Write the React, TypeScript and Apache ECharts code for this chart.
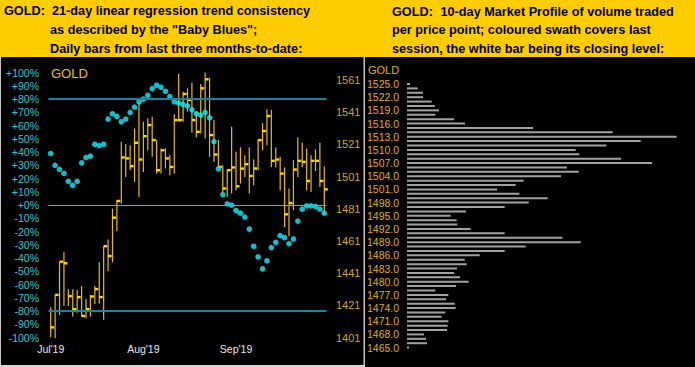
import React, { useEffect, useRef } from "react";
import * as echarts from "echarts";

// ---- Left chart: 63 daily sessions ----
const sessions = [
  "1","2","3","4","5","6","7","8","9","10","11","12","13","14","15","16","17","18","19","20","21",
  "22","23","24","25","26","27","28","29","30","31","32","33","34","35","36","37","38","39","40","41","42",
  "43","44","45","46","47","48","49","50","51","52","53","54","55","56","57","58","59","60","61","62","63",
];
const monthLabels = ["Jul'19", "Aug'19", "Sep'19"];
const monthStartIdx = [0, 21, 42];

// "Baby Blues" trend consistency (%)
const trendPct = [
  39, 30, 27, 24, 18, 15, 18, 32, 36, 37,
  46, 45, 46, 65, 69, 67, 63, 65, 70, 74,
  78, 80, 83, 88, 90.5, 89, 86, 82, 78, 77,
  76, 75, 72, 69, 68, 70, 66, 48, 27.5, 8,
  1, 0, -4, -6, -9, -18, -31, -39, -48, -42,
  -32, -28, -23, -24.5, -29, -25.5, -12, -3, -0.5, -0.5,
  -1, -3, -6,
];

const highs = [
  1419.9, 1427.6, 1448.2, 1454.1, 1431.1, 1431.1, 1430.6, 1433.1, 1425.0, 1427.6,
  1433.1, 1447.8, 1457.8, 1462.0, 1481.1, 1486.3, 1522.6, 1521.2, 1520.5, 1530.9,
  1546.5, 1535.0, 1537.2, 1538.2, 1523.7, 1518.5, 1518.5, 1514.3, 1539.8, 1564.7,
  1553.7, 1555.8, 1559.3, 1541.3, 1558.5, 1565.6, 1562.1, 1536.1, 1523.7, 1508.1,
  1505.4, 1531.9, 1516.4, 1519.1, 1514.3, 1519.1, 1511.6, 1524.1, 1534.1, 1542.8,
  1542.3, 1519.1, 1513.3, 1506.7, 1493.6, 1511.2, 1525.3, 1522.0, 1518.5, 1514.3,
  1517.9, 1522.0, 1507.5,
];
const lows = [
  1401.2, 1400.8, 1415.0, 1420.9, 1420.7, 1414.1, 1416.5, 1414.1, 1413.1, 1414.1,
  1421.9, 1422.3, 1412.1, 1442.3, 1447.8, 1467.2, 1484.2, 1500.8, 1505.0, 1497.7,
  1488.3, 1503.9, 1517.4, 1513.3, 1502.9, 1502.9, 1506.0, 1501.9, 1502.9, 1535.0,
  1535.0, 1541.3, 1528.2, 1525.3, 1527.8, 1524.7, 1513.3, 1510.1, 1507.0, 1491.5,
  1488.3, 1490.5, 1492.5, 1496.7, 1500.8, 1490.5, 1495.6, 1505.0, 1517.4, 1520.5,
  1507.0, 1506.7, 1492.5, 1469.7, 1463.9, 1480.1, 1500.8, 1507.0, 1492.5, 1491.5,
  1504.5, 1494.6, 1478.0,
];
const closes = [
  1407.4, 1427.6, 1448.2, 1447.2, 1426.8, 1418.7, 1426.2, 1414.5, 1418.7, 1426.6,
  1431.2, 1426.2, 1457.8, 1451.7, 1475.5, 1485.9, 1512.9, 1512.3, 1507.5, 1522.0,
  1511.6, 1526.1, 1533.0, 1523.7, 1505.0, 1517.4, 1512.3, 1507.0, 1536.1, 1536.1,
  1552.3, 1548.6, 1536.1, 1528.8, 1555.8, 1561.4, 1526.8, 1514.7, 1507.0, 1493.6,
  1505.0, 1506.7, 1495.0, 1506.0, 1508.7, 1501.4, 1506.0, 1523.7, 1529.3, 1538.6,
  1510.8, 1511.6, 1502.9, 1477.6, 1484.6, 1505.4, 1510.8, 1510.1, 1498.3, 1510.8,
  1510.8, 1498.3, 1493.1,
];
const PRICE_BASE = 1401; // lowest price-axis tick

// ---- Right chart: 10-day market profile ----
const profileLevels = [
  1525, 1524, 1523, 1522, 1521, 1520, 1519, 1518, 1517, 1516,
  1515, 1514, 1513, 1512, 1511, 1510, 1509, 1508, 1507, 1506,
  1505, 1504, 1503, 1502, 1501, 1500, 1499, 1498, 1497, 1496,
  1495, 1494, 1493, 1492, 1491, 1490, 1489, 1488, 1487, 1486,
  1485, 1484, 1483, 1482, 1481, 1480, 1479, 1478, 1477, 1476,
  1475, 1474, 1473, 1472, 1471, 1470, 1469, 1468, 1467, 1466,
  1465,
];
const profileVolume = [
  9, 32, 48, 48, 74, 83, 96, 85, 141, 174,
  378, 617, 809, 701, 598, 506, 517, 642, 735, 480,
  515, 462, 350, 326, 270, 337, 422, 365, 293, 177,
  131, 149, 151, 191, 293, 466, 521, 356, 293, 218,
  173, 179, 150, 141, 159, 185, 147, 85, 124, 117,
  143, 146, 115, 104, 124, 122, 120, 51, 57, 60,
  6,
];

const FONT = "'Liberation Sans', Arial, Helvetica, sans-serif";

export default function App() {
  const ref = useRef<HTMLDivElement>(null);

  useEffect(() => {
    if (!ref.current) return;
    const chart = echarts.init(ref.current, null, { renderer: "svg" });

    const ohlc = highs.map((h, i) => [i, lows[i] - PRICE_BASE, h - PRICE_BASE, closes[i] - PRICE_BASE]);

    const hdr = (text: string, x: number, y: number) => ({
      type: "text",
      x,
      y,
      silent: true,
      style: {
        text,
        fill: "#000",
        font: `bold 12.7px ${FONT}`,
        verticalAlign: "middle",
        align: "left",
      },
    });

    chart.setOption({
      animation: false,
      backgroundColor: "#000",
      textStyle: { fontFamily: FONT },
      grid: [
        { left: 48.5, top: 72.7, width: 278, height: 265 },
        { left: 407, top: 81.8, width: 280, height: 268 },
      ],
      xAxis: [
        {
          type: "category",
          gridIndex: 0,
          data: sessions,
          boundaryGap: true,
          axisLine: { show: false },
          axisTick: { show: false },
          splitLine: { show: false },
          axisLabel: {
            interval: (i: number) => monthStartIdx.includes(i),
            formatter: (_v: string, i: number) => {
              const k = monthStartIdx.indexOf(i);
              return k >= 0 ? monthLabels[k] : "";
            },
            color: "#e8e8e8",
            fontSize: 10.5,
            margin: 6,
          },
        },
        { type: "value", gridIndex: 1, min: 0, max: 840, show: false },
      ],
      yAxis: [
        {
          type: "value",
          gridIndex: 0,
          min: -100,
          max: 100,
          interval: 10,
          position: "left",
          axisLine: { show: false },
          axisTick: { show: false },
          splitLine: { show: false },
          axisLabel: {
            formatter: (v: number) => (v >= 0 ? "+" : "") + v + "%",
            color: "#2ccbd2",
            fontSize: 10.5,
            margin: 9.5,
          },
        },
        {
          type: "value",
          gridIndex: 0,
          min: 0,
          max: 164.5,
          interval: 20,
          position: "right",
          axisLine: { show: false },
          axisTick: { show: false },
          splitLine: { show: false },
          axisLabel: {
            formatter: (v: number) => (v % 20 === 0 ? String(v + PRICE_BASE) : ""),
            color: "#d2a714",
            fontSize: 11,
            margin: 9.5,
            showMaxLabel: false,
          },
        },
        {
          type: "category",
          gridIndex: 1,
          data: profileLevels.map((l) => l.toFixed(1)),
          inverse: true,
          axisLine: { show: false },
          axisTick: { show: false },
          splitLine: { show: false },
          axisLabel: {
            interval: 2,
            align: "left",
            margin: 40,
            color: "#e2b000",
            fontSize: 10.5,
          },
        },
      ],
      series: [
        {
          type: "custom",
          name: "GOLD",
          xAxisIndex: 0,
          yAxisIndex: 1,
          data: ohlc,
          z: 2,
          renderItem: (_params: any, api: any) => {
            const idx = api.value(0);
            const lo = api.coord([idx, api.value(1)]);
            const hi = api.coord([idx, api.value(2)]);
            const cl = api.coord([idx, api.value(3)]);
            return {
              type: "group",
              children: [
                {
                  type: "line",
                  shape: { x1: lo[0], y1: lo[1], x2: hi[0], y2: hi[1] },
                  style: { stroke: "#e8bf00", lineWidth: 1.2 },
                },
                {
                  type: "rect",
                  shape: { x: cl[0], y: cl[1] - 1.2, width: 3.5, height: 2.4 },
                  style: { fill: "#ffd800" },
                },
              ],
            };
          },
        },
        {
          type: "scatter",
          name: "Baby Blues",
          xAxisIndex: 0,
          yAxisIndex: 0,
          data: trendPct,
          symbol: "circle",
          symbolSize: 5.6,
          itemStyle: { color: "#14f0ff" },
          z: 3,
          markLine: {
            silent: true,
            symbol: "none",
            label: { show: false },
            data: [
              { yAxis: 80, lineStyle: { color: "#1a82a2", width: 2, type: "solid" } },
              { yAxis: -80, lineStyle: { color: "#1a82a2", width: 2, type: "solid" } },
              { yAxis: 0, lineStyle: { color: "#2fbde0", width: 1.2, type: "solid" } },
            ],
          },
        },
        {
          type: "bar",
          name: "Volume",
          xAxisIndex: 1,
          yAxisIndex: 2,
          data: profileVolume,
          barWidth: 2,
          itemStyle: { color: "#a2a2a2" },
        },
      ],
      graphic: [
        { type: "rect", silent: true, z: -10, shape: { x: 0, y: 0, width: 695, height: 57 }, style: { fill: "#ffcc00" } },
        { type: "rect", silent: true, shape: { x: 0, y: 57, width: 1, height: 310 }, style: { fill: "#c4c4c4" } },
        { type: "rect", silent: true, shape: { x: 363.5, y: 57, width: 1.5, height: 310 }, style: { fill: "#c4c4c4" } },
        { type: "rect", silent: true, shape: { x: 0, y: 365, width: 365, height: 2 }, style: { fill: "#d6d6d6" } },
        hdr("GOLD:", 4, 10.5),
        hdr("21-day linear regression trend consistency", 52, 10.5),
        hdr('as described by the "Baby Blues";', 50, 29.5),
        hdr("Daily bars from last three months-to-date:", 50, 48.5),
        hdr("GOLD:", 392, 11.5),
        hdr("10-day Market Profile of volume traded", 440.5, 11.5),
        hdr("per price point; coloured swath covers last", 392, 30),
        hdr("session, the white bar being its closing level:", 392, 48.5),
        {
          type: "text",
          x: 51,
          y: 73,
          silent: true,
          style: { text: "GOLD", fill: "#f0c000", font: `13px ${FONT}`, verticalAlign: "middle" },
        },
        {
          type: "text",
          x: 368,
          y: 70,
          silent: true,
          style: { text: "GOLD", fill: "#e2b000", font: `11px ${FONT}`, verticalAlign: "middle" },
        },
      ],
    });

    return () => chart.dispose();
  }, []);

  return (
    <div
      ref={ref}
      style={{ position: "absolute", left: 0, top: 0, width: 695, height: 367 }}
    />
  );
}
